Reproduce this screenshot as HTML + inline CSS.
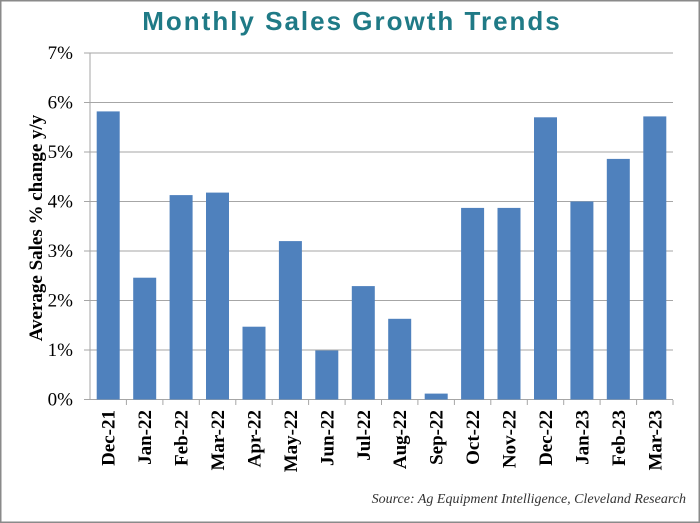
<!DOCTYPE html>
<html><head><meta charset="utf-8"><style>
body{margin:0;background:#fff}
svg{display:block}
</style></head><body>
<svg width="700" height="523" xmlns="http://www.w3.org/2000/svg">
<rect x="0.5" y="0.5" width="699" height="522" fill="#fff" stroke="#8a8a8a" stroke-width="2"/>
<text x="352" y="30" text-anchor="middle" font-family="Liberation Sans, sans-serif" font-size="26" fill="#1f7a86" letter-spacing="2" font-weight="bold">Monthly Sales Growth Trends</text>
<g stroke="#a6a6a6" stroke-width="1">
<line x1="84" x2="673" y1="53" y2="53"/>
<line x1="84" x2="673" y1="102.5" y2="102.5"/>
<line x1="84" x2="673" y1="152" y2="152"/>
<line x1="84" x2="673" y1="201.5" y2="201.5"/>
<line x1="84" x2="673" y1="251" y2="251"/>
<line x1="84" x2="673" y1="300.5" y2="300.5"/>
<line x1="84" x2="673" y1="350" y2="350"/>
<line x1="90" x2="90" y1="53" y2="400"/>
<line x1="84" x2="673" y1="399.5" y2="399.5"/>
<line x1="126.4" x2="126.4" y1="400" y2="405"/><line x1="162.9" x2="162.9" y1="400" y2="405"/><line x1="199.3" x2="199.3" y1="400" y2="405"/><line x1="235.8" x2="235.8" y1="400" y2="405"/><line x1="272.2" x2="272.2" y1="400" y2="405"/><line x1="308.6" x2="308.6" y1="400" y2="405"/><line x1="345.1" x2="345.1" y1="400" y2="405"/><line x1="381.5" x2="381.5" y1="400" y2="405"/><line x1="417.9" x2="417.9" y1="400" y2="405"/><line x1="454.4" x2="454.4" y1="400" y2="405"/><line x1="490.8" x2="490.8" y1="400" y2="405"/><line x1="527.3" x2="527.3" y1="400" y2="405"/><line x1="563.7" x2="563.7" y1="400" y2="405"/><line x1="600.1" x2="600.1" y1="400" y2="405"/><line x1="636.6" x2="636.6" y1="400" y2="405"/><line x1="673" x2="673" y1="400" y2="405"/>
</g>
<g font-family="Liberation Serif, serif" font-size="19" text-anchor="end" fill="#000">
<text x="73" y="59">7%</text><text x="73" y="108.5">6%</text><text x="73" y="158">5%</text><text x="73" y="207.5">4%</text><text x="73" y="257">3%</text><text x="73" y="306.5">2%</text><text x="73" y="356">1%</text><text x="73" y="405.5">0%</text>
</g>
<text transform="translate(42,228) rotate(-90)" text-anchor="middle" font-family="Liberation Serif, serif" font-weight="bold" font-size="19">Average Sales % change y/y</text>
<g fill="#4f81bd">
<rect x="96.7" y="111.4" width="23" height="288.1"/>
<rect x="133.2" y="277.7" width="23" height="121.8"/>
<rect x="169.6" y="195.1" width="23" height="204.4"/>
<rect x="206.0" y="192.6" width="23" height="206.9"/>
<rect x="242.5" y="326.7" width="23" height="72.8"/>
<rect x="278.9" y="241.1" width="23" height="158.4"/>
<rect x="315.3" y="350.5" width="23" height="49.0"/>
<rect x="351.8" y="286.1" width="23" height="113.4"/>
<rect x="388.2" y="318.8" width="23" height="80.7"/>
<rect x="424.7" y="393.6" width="23" height="5.9"/>
<rect x="461.1" y="207.9" width="23" height="191.6"/>
<rect x="497.5" y="207.9" width="23" height="191.6"/>
<rect x="534.0" y="117.3" width="23" height="282.2"/>
<rect x="570.4" y="201.5" width="23" height="198.0"/>
<rect x="606.8" y="158.9" width="23" height="240.6"/>
<rect x="643.3" y="116.4" width="23" height="283.1"/>
</g>
<g font-family="Liberation Serif, serif" font-weight="bold" font-size="19" text-anchor="end">
<text transform="translate(114.7,410) rotate(-90)">Dec-21</text>
<text transform="translate(151.2,410) rotate(-90)">Jan-22</text>
<text transform="translate(187.6,410) rotate(-90)">Feb-22</text>
<text transform="translate(224,410) rotate(-90)">Mar-22</text>
<text transform="translate(260.5,410) rotate(-90)">Apr-22</text>
<text transform="translate(296.9,410) rotate(-90)">May-22</text>
<text transform="translate(333.3,410) rotate(-90)">Jun-22</text>
<text transform="translate(369.8,410) rotate(-90)">Jul-22</text>
<text transform="translate(406.2,410) rotate(-90)">Aug-22</text>
<text transform="translate(442.7,410) rotate(-90)">Sep-22</text>
<text transform="translate(479.1,410) rotate(-90)">Oct-22</text>
<text transform="translate(515.5,410) rotate(-90)">Nov-22</text>
<text transform="translate(552,410) rotate(-90)">Dec-22</text>
<text transform="translate(588.4,410) rotate(-90)">Jan-23</text>
<text transform="translate(624.8,410) rotate(-90)">Feb-23</text>
<text transform="translate(661.3,410) rotate(-90)">Mar-23</text>
</g>
<text x="686" y="503" text-anchor="end" font-family="Liberation Serif, serif" font-style="italic" font-size="14" fill="#333">Source: Ag Equipment Intelligence, Cleveland Research</text>
</svg>
</body></html>
